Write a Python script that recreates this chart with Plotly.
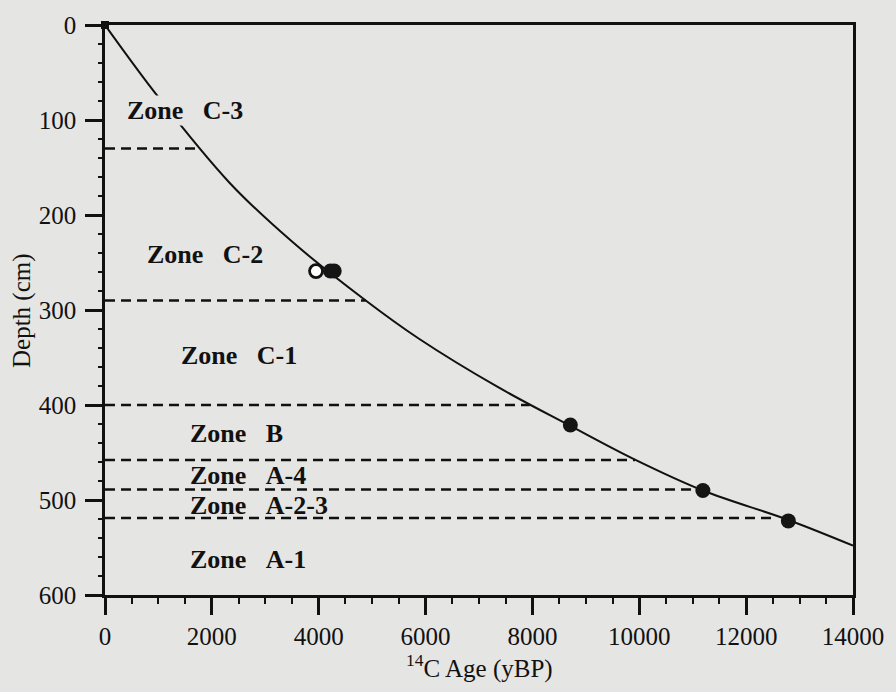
import plotly.graph_objects as go

# Age-depth curve (14C age yBP, depth cm)
curve_age = [0, 1000, 2330, 3500, 4880, 5870, 7350, 8710, 9900, 11190, 12790, 14000]
curve_depth = [0, 76, 166, 228, 290, 330, 381, 422, 457, 490, 521, 548]

# Dated samples
filled_age = [4220, 4290, 8710, 11190, 12790]
filled_depth = [259, 259, 421, 490, 522]
open_age = [3950]
open_depth = [259]
surface_age = [0]
surface_depth = [0]

# Zone boundaries (depth, age where the dashed line meets the curve)
boundary_depth = [130, 290, 400, 458, 489, 519]
boundary_age = [1690, 4880, 7950, 9920, 11100, 12540]

# Zone labels
zone_names = ["Zone&nbsp;&nbsp;&nbsp;C-3", "Zone&nbsp;&nbsp;&nbsp;C-2", "Zone&nbsp;&nbsp;&nbsp;C-1",
              "Zone&nbsp;&nbsp;&nbsp;B", "Zone&nbsp;&nbsp;&nbsp;A-4", "Zone&nbsp;&nbsp;&nbsp;A-2-3",
              "Zone&nbsp;&nbsp;&nbsp;A-1"]
zone_label_age = [400, 770, 1400, 1570, 1570, 1570, 1570]
zone_label_depth = [90, 242, 348, 430, 474, 506, 563]

x_ticks = [0, 2000, 4000, 6000, 8000, 10000, 12000, 14000]
y_ticks = [0, 100, 200, 300, 400, 500, 600]

BG = "#e5e5e3"
FONT = "Liberation Serif, Times New Roman, serif"
INK = "#111111"

fig = go.Figure()

for d, a in zip(boundary_depth, boundary_age):
    fig.add_trace(go.Scatter(x=[0, a], y=[d, d], mode="lines",
                             line=dict(color=INK, width=2.5, dash="10px,6px"),
                             hoverinfo="skip", showlegend=False))

fig.add_trace(go.Scatter(x=curve_age, y=curve_depth, mode="lines",
                         line=dict(color=INK, width=2, shape="spline", smoothing=1.0),
                         showlegend=False))

fig.add_trace(go.Scatter(x=filled_age, y=filled_depth, mode="markers",
                         marker=dict(color="#151515", size=15, line=dict(width=0)),
                         showlegend=False, cliponaxis=False))
fig.add_trace(go.Scatter(x=open_age, y=open_depth, mode="markers",
                         marker=dict(color="white", size=13, line=dict(color=INK, width=2.8)),
                         showlegend=False, cliponaxis=False))
fig.add_trace(go.Scatter(x=surface_age, y=surface_depth, mode="markers",
                         marker=dict(color=INK, size=8, symbol="square"),
                         showlegend=False, cliponaxis=False))

for i, (name, a, d) in enumerate(zip(zone_names, zone_label_age, zone_label_depth)):
    fig.add_annotation(x=a, y=d, xref="x", yref="y", text="<b>" + name + "</b>",
                       showarrow=False, xanchor="left", yanchor="middle",
                       bgcolor=BG if i == 0 else None, borderpad=0,
                       font=dict(family=FONT, size=26, color=INK))

fig.add_annotation(x=0.5, y=-0.125, xref="paper", yref="paper",
                   text="<sup>14</sup>C Age (yBP)", showarrow=False,
                   xanchor="center", yanchor="middle",
                   font=dict(family=FONT, size=25, color=INK))
fig.add_annotation(x=-0.111, y=0.5, xref="paper", yref="paper",
                   text="Depth (cm)", showarrow=False, textangle=-90,
                   xanchor="center", yanchor="middle",
                   font=dict(family=FONT, size=25, color=INK))

fig.update_layout(
    width=896, height=692,
    margin=dict(l=105, r=39, t=19, b=97),
    paper_bgcolor=BG, plot_bgcolor=BG,
    font=dict(family=FONT, size=25, color=INK),
    xaxis=dict(range=[0, 14000], tickvals=x_ticks, ticktext=[str(v) for v in x_ticks],
               showgrid=False, zeroline=False, showline=True, linecolor=INK, linewidth=2.5,
               mirror=True, ticks="outside", ticklen=17, tickwidth=2.5, tickcolor=INK,
               ticklabelstandoff=0,
               minor=dict(dtick=500, ticks="outside", ticklen=6, tickwidth=2, tickcolor=INK),
               tickfont=dict(family=FONT, size=25, color=INK)),
    yaxis=dict(range=[600, 0], tickvals=y_ticks, ticktext=[str(v) for v in y_ticks],
               showgrid=False, zeroline=False, showline=True, linecolor=INK, linewidth=2.5,
               mirror=True, ticks="outside", ticklen=17, tickwidth=2.5, tickcolor=INK,
               ticklabelstandoff=4,
               minor=dict(dtick=20, ticks="outside", ticklen=4, tickwidth=2, tickcolor=INK),
               tickfont=dict(family=FONT, size=25, color=INK)),
    yaxis2=dict(range=[600, 0], overlaying="y", side="left", showgrid=False, zeroline=False,
                showline=False, showticklabels=False, ticks="inside", dtick=20, ticklen=5,
                tickwidth=2, tickcolor=INK),
)

fig.write_html("out.html")
